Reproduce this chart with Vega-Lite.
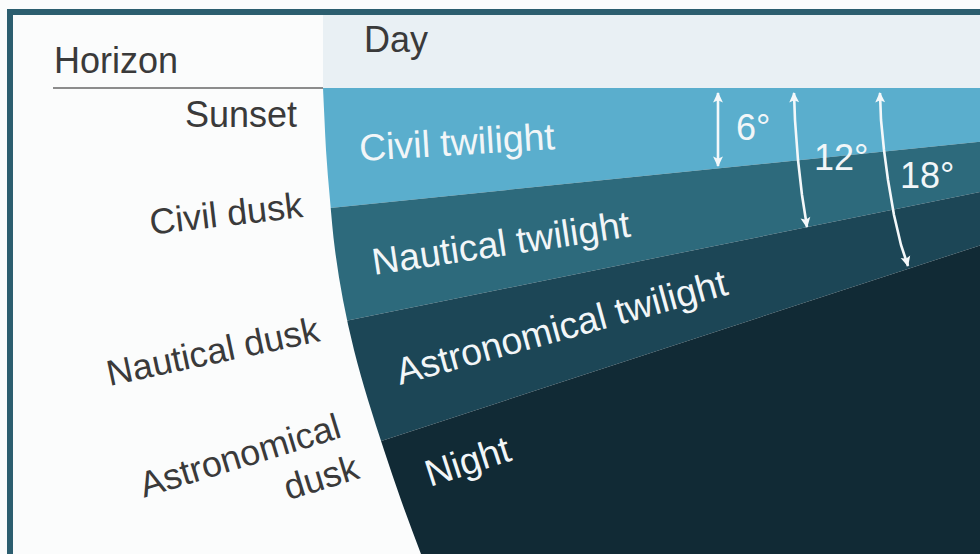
{
  "$schema": "https://vega.github.io/schema/vega-lite/v6.json",
  "width": 980,
  "height": 554,
  "padding": 0,
  "autosize": {"type": "fit", "contains": "padding"},
  "background": "#fbfcfc",
  "config": {"view": {"stroke": null}},
  "datasets": {
    "frame": [
      {"part": "top", "x": 7, "x2": 980, "y": 9, "y2": 15},
      {"part": "left", "x": 7, "x2": 13, "y": 9, "y2": 554}
    ],
    "day": [
      {"part": "Day", "x": 323, "x2": 980, "y": 15, "y2": 88}
    ],
    "bands": [
      {"band": "Civil twilight", "x": 323, "top": 88, "bottom": 208.7},
      {"band": "Civil twilight", "x": 980, "top": 88, "bottom": 141.7},
      {"band": "Nautical twilight", "x": 323, "top": 208.7, "bottom": 325.5},
      {"band": "Nautical twilight", "x": 980, "top": 141.7, "bottom": 192},
      {"band": "Astronomical twilight", "x": 323, "top": 325.5, "bottom": 460},
      {"band": "Astronomical twilight", "x": 980, "top": 192, "bottom": 245.4},
      {"band": "Night", "x": 323, "top": 460, "bottom": 554},
      {"band": "Night", "x": 980, "top": 245.4, "bottom": 554}
    ],
    "earth": [
      {"y": 88, "xl": 290, "xr": 323},
      {"y": 120, "xl": 290, "xr": 324.5},
      {"y": 150, "xl": 290, "xr": 326},
      {"y": 200, "xl": 290, "xr": 330},
      {"y": 250, "xl": 290, "xr": 335},
      {"y": 300, "xl": 290, "xr": 343},
      {"y": 350, "xl": 290, "xr": 354},
      {"y": 400, "xl": 290, "xr": 368},
      {"y": 450, "xl": 290, "xr": 384},
      {"y": 500, "xl": 290, "xr": 401},
      {"y": 554, "xl": 290, "xr": 421}
    ],
    "horizon": [
      {"x": 53, "x2": 323, "y": 88}
    ],
    "arrows": [
      {"arrow": "6°", "x": 718, "y": 93},
      {"arrow": "6°", "x": 718, "y": 166},
      {"arrow": "12°", "x": 794, "y": 93},
      {"arrow": "12°", "x": 795, "y": 120},
      {"arrow": "12°", "x": 798, "y": 160},
      {"arrow": "12°", "x": 802, "y": 195},
      {"arrow": "12°", "x": 807, "y": 227},
      {"arrow": "18°", "x": 880, "y": 93},
      {"arrow": "18°", "x": 881, "y": 120},
      {"arrow": "18°", "x": 884, "y": 150},
      {"arrow": "18°", "x": 888, "y": 180},
      {"arrow": "18°", "x": 894, "y": 215},
      {"arrow": "18°", "x": 901, "y": 245},
      {"arrow": "18°", "x": 908, "y": 266}
    ],
    "heads": [
      {"arrow": "6°", "x": 718, "y": 97.5, "rot": 0},
      {"arrow": "6°", "x": 718, "y": 161.5, "rot": 180},
      {"arrow": "12°", "x": 794, "y": 97.5, "rot": 358},
      {"arrow": "12°", "x": 806.2, "y": 222.5, "rot": 171},
      {"arrow": "18°", "x": 880, "y": 97.5, "rot": 358},
      {"arrow": "18°", "x": 906.7, "y": 261.5, "rot": 165}
    ],
    "labelsLeft": [
      {"label": "Horizon", "x": 54, "y": 73, "tilt": 0},
      {"label": "Day", "x": 364, "y": 52, "tilt": 0}
    ],
    "labelsRight": [
      {"label": "Sunset", "x": 297, "y": 127, "tilt": 0},
      {"label": "Civil dusk", "x": 304, "y": 217, "tilt": 6.6},
      {"label": "Nautical dusk", "x": 321, "y": 341, "tilt": 12},
      {"label": "Astronomical", "x": 343, "y": 437, "tilt": 17},
      {"label": "dusk", "x": 361, "y": 478, "tilt": 17}
    ],
    "labelsBand": [
      {"label": "Civil twilight", "x": 360, "y": 161, "tilt": 3.5},
      {"label": "Nautical twilight", "x": 374, "y": 275, "tilt": 8.5},
      {"label": "Astronomical twilight", "x": 400, "y": 385, "tilt": 15.4},
      {"label": "Night", "x": 430, "y": 487, "tilt": 18}
    ],
    "degrees": [
      {"label": "6°", "x": 736, "y": 140},
      {"label": "12°", "x": 814, "y": 170},
      {"label": "18°", "x": 900, "y": 188}
    ]
  },
  "layer": [
    {
      "data": {"name": "frame"},
      "mark": {"type": "rect", "color": "#2c5e6f"},
      "encoding": {
        "x": {"field": "x", "type": "quantitative", "scale": {"domain": [0, 980], "nice": false, "zero": false}, "axis": null},
        "x2": {"field": "x2"},
        "y": {"field": "y", "type": "quantitative", "scale": {"domain": [0, 554], "nice": false, "zero": false, "reverse": true}, "axis": null},
        "y2": {"field": "y2"}
      }
    },
    {
      "data": {"name": "day"},
      "mark": {"type": "rect", "color": "#e9f0f4"},
      "encoding": {
        "x": {"field": "x", "type": "quantitative", "axis": null},
        "x2": {"field": "x2"},
        "y": {"field": "y", "type": "quantitative", "axis": null},
        "y2": {"field": "y2"}
      }
    },
    {
      "data": {"name": "bands"},
      "mark": {"type": "area", "opacity": 1, "interpolate": "linear"},
      "encoding": {
        "x": {"field": "x", "type": "quantitative", "axis": null},
        "y": {"field": "top", "type": "quantitative", "axis": null, "stack": null},
        "y2": {"field": "bottom"},
        "color": {
          "field": "band", "type": "nominal", "legend": null,
          "scale": {
            "domain": ["Civil twilight", "Nautical twilight", "Astronomical twilight", "Night"],
            "range": ["#5aaecd", "#2d6a7c", "#1c4656", "#112a35"]
          }
        }
      }
    },
    {
      "data": {"name": "earth"},
      "mark": {"type": "area", "orient": "horizontal", "color": "#fbfcfc", "opacity": 1, "interpolate": "monotone"},
      "encoding": {
        "y": {"field": "y", "type": "quantitative", "axis": null},
        "x": {"field": "xr", "type": "quantitative", "axis": null, "stack": null},
        "x2": {"field": "xl"}
      }
    },
    {
      "data": {"name": "horizon"},
      "mark": {"type": "rule", "color": "#8c8c8c", "strokeWidth": 2},
      "encoding": {
        "x": {"field": "x", "type": "quantitative", "axis": null},
        "x2": {"field": "x2"},
        "y": {"field": "y", "type": "quantitative", "axis": null}
      }
    },
    {
      "data": {"name": "arrows"},
      "mark": {"type": "line", "color": "#f4f8fa", "strokeWidth": 2.6, "interpolate": "linear"},
      "encoding": {
        "x": {"field": "x", "type": "quantitative", "axis": null},
        "y": {"field": "y", "type": "quantitative", "axis": null},
        "detail": {"field": "arrow", "type": "nominal"},
        "order": {"field": "y", "type": "quantitative"}
      }
    },
    {
      "data": {"name": "heads"},
      "mark": {"type": "point", "shape": "M0,-1L0.9,0.9L0,0.5L-0.9,0.9Z", "filled": true, "color": "#f4f8fa", "opacity": 1, "size": 120},
      "encoding": {
        "x": {"field": "x", "type": "quantitative", "axis": null},
        "y": {"field": "y", "type": "quantitative", "axis": null},
        "angle": {"field": "rot", "type": "quantitative", "scale": null}
      }
    },
    {
      "data": {"name": "labelsLeft"},
      "mark": {"type": "text", "align": "left", "baseline": "alphabetic", "font": "Liberation Sans", "fontSize": 36, "color": "#3a3a3a"},
      "encoding": {
        "x": {"field": "x", "type": "quantitative", "axis": null},
        "y": {"field": "y", "type": "quantitative", "axis": null},
        "text": {"field": "label"},
        "angle": {"field": "tilt", "type": "quantitative", "scale": {"domain": [0, 90], "range": [360, 270]}}
      }
    },
    {
      "data": {"name": "labelsRight"},
      "mark": {"type": "text", "align": "right", "baseline": "alphabetic", "font": "Liberation Sans", "fontSize": 36, "color": "#3a3a3a"},
      "encoding": {
        "x": {"field": "x", "type": "quantitative", "axis": null},
        "y": {"field": "y", "type": "quantitative", "axis": null},
        "text": {"field": "label"},
        "angle": {"field": "tilt", "type": "quantitative", "scale": {"domain": [0, 90], "range": [360, 270]}}
      }
    },
    {
      "data": {"name": "labelsBand"},
      "mark": {"type": "text", "align": "left", "baseline": "alphabetic", "font": "Liberation Sans", "fontSize": 37.5, "color": "#f2f6f8"},
      "encoding": {
        "x": {"field": "x", "type": "quantitative", "axis": null},
        "y": {"field": "y", "type": "quantitative", "axis": null},
        "text": {"field": "label"},
        "angle": {"field": "tilt", "type": "quantitative", "scale": {"domain": [0, 90], "range": [360, 270]}}
      }
    },
    {
      "data": {"name": "degrees"},
      "mark": {"type": "text", "align": "left", "baseline": "alphabetic", "font": "Liberation Sans", "fontSize": 36, "color": "#f2f6f8"},
      "encoding": {
        "x": {"field": "x", "type": "quantitative", "axis": null},
        "y": {"field": "y", "type": "quantitative", "axis": null},
        "text": {"field": "label"}
      }
    }
  ],
  "resolve": {"scale": {"angle": "independent"}}
}
